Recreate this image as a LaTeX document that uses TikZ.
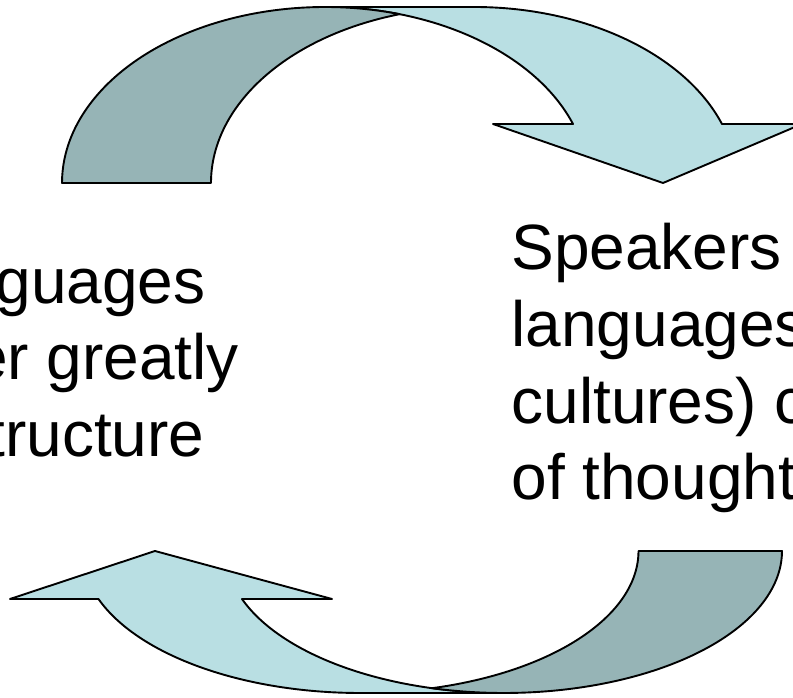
\documentclass[tikz,border=0pt]{standalone}
\usepackage{fontspec}
\setmainfont{Liberation Sans}
\definecolor{lightband}{RGB}{185,223,227}
\definecolor{darkband}{RGB}{150,180,182}
\begin{document}
\begin{tikzpicture}[x=1pt,y=1pt,
  band/.style={draw=black, line width=1.9pt, line join=round},
  lightpart/.style={band, fill=lightband},
  darkpart/.style={band, fill=darkband},
  txt/.style={inner sep=0pt, outer sep=0pt, font=\fontsize{64}{77}\selectfont}]
\useasboundingbox (0,0) rectangle (793,698);
\clip (0,0) rectangle (793,698);

% top curved arrow (pointing down on the right)
\path[lightpart] (663,515) -- (493,574) -- (573,574)
  arc[start angle=19.58, end angle=90, x radius=263.1, y radius=176]
  -- (474.1,691)
  arc[start angle=90, end angle=19.58, x radius=263.1, y radius=176]
  -- (802,574) -- cycle;
\path[darkpart] (399.6,683.8)
  arc[start angle=106.45, end angle=180, x radius=263.1, y radius=176]
  -- (62,515)
  arc[start angle=180, end angle=73.55, x radius=263.1, y radius=176]
  -- cycle;

% bottom curved arrow (pointing up on the left)
\path[lightpart] (155,147) -- (332,99) -- (242,99)
  arc[start angle=199.76, end angle=270, x radius=278.2, y radius=142]
  -- (360.3,5)
  arc[start angle=270, end angle=199.76, x radius=278.2, y radius=142]
  -- (10,99) -- cycle;
\path[darkpart] (432.05,9.8)
  arc[start angle=284.95, end angle=360, x radius=278.2, y radius=142]
  -- (782,147)
  arc[start angle=360, end angle=255.05, x radius=278.2, y radius=142]
  -- cycle;

% left text (cut by the left edge, as in the reference)
\node[txt, anchor=base east] (l1) at (205.5,394.7) {guages};
\node[txt, anchor=base east] (l2) at (239,318) {er greatly};
\node[txt, anchor=base east] (l3) at (204.3,241.3) {tructure};

% right text (cut by the right edge, as in the reference)
\node[txt, anchor=base west] (r1) at (511.5,428) {Speakers};
\node[txt, anchor=base west] (r2) at (511.5,351.3) {languages};
\node[txt, anchor=base west] (r3) at (511.5,274.7) {cultures) c};
\node[txt, anchor=base west] (r4) at (511.5,198) {of thought};
\end{tikzpicture}
\end{document}
